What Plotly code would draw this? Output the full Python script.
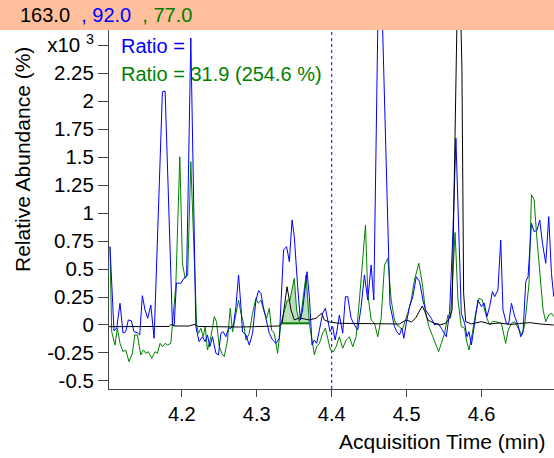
import numpy as np
import plotly.graph_objects as go

# ---- data (time in min, abundance in x10^3 %) ----
blue_t = [4.1041, 4.1095, 4.1131, 4.1175, 4.1215, 4.1251, 4.1286, 4.1326, 4.1362, 4.1406,
          4.1438, 4.1473, 4.1509, 4.1545, 4.1586, 4.1630, 4.1741, 4.1777, 4.1874, 4.1897,
          4.1928, 4.1987, 4.2031, 4.2064, 4.2120, 4.2187, 4.2231, 4.2275, 4.2312, 4.2342,
          4.2374, 4.2409, 4.2455, 4.2489, 4.2521, 4.2552, 4.2588, 4.2623, 4.2655, 4.2690,
          4.2722, 4.2757, 4.2789, 4.2810, 4.2856, 4.2900, 4.2944, 4.2989, 4.3024, 4.3056,
          4.3087, 4.3127, 4.3167, 4.3211, 4.3257, 4.3301, 4.3358, 4.3398, 4.3435, 4.3471,
          4.3501, 4.3546, 4.3582, 4.3612, 4.3644, 4.3671, 4.3702, 4.3738, 4.3769, 4.3800,
          4.3836, 4.3880, 4.3916, 4.3947, 4.3979, 4.4013, 4.4046, 4.4072, 4.4103, 4.4147,
          4.4183, 4.4214, 4.4259, 4.4304, 4.4348, 4.4393, 4.4437, 4.4481, 4.4527, 4.4562,
          4.4638, 4.4778, 4.4807, 4.4838, 4.4869, 4.4905, 4.4936, 4.4963, 4.4995, 4.5039,
          4.5083, 4.5129, 4.5173, 4.5217, 4.5253, 4.5329, 4.5373, 4.5417, 4.5463, 4.5498,
          4.5530, 4.5574, 4.5618, 4.5658, 4.5730, 4.5774, 4.5805, 4.5832, 4.5864, 4.5908,
          4.5952, 4.5998, 4.6035, 4.6072, 4.6108, 4.6145, 4.6175, 4.6219, 4.6256, 4.6286,
          4.6332, 4.6362, 4.6399, 4.6443, 4.6487, 4.6523, 4.6554, 4.6590, 4.6621, 4.6666,
          4.6701, 4.6741, 4.6777, 4.6813, 4.6857, 4.6897, 4.6933, 4.6964]
blue_v = [0.700, -0.054, -0.027, 0.194, -0.072, -0.060, 0.045, 0.038, -0.060, -0.069,
          -0.089, 0.262, 0.134, 0.060, 0.179, -0.119, 2.085, 2.091, 0.015, -0.009,
          0.375, 0.373, 0.420, 0.438, 2.565, -0.015, -0.149, -0.105, -0.149, -0.089,
          -0.194, -0.105, -0.253, -0.268, -0.074, -0.060, -0.105, -0.029, -0.029, 0.000,
          0.164, 0.447, 0.164, -0.063, -0.089, -0.179, -0.074, 0.223, 0.307, 0.283,
          0.164, 0.045, -0.074, -0.134, -0.164, -0.119, 0.670, 0.700, 0.566, 0.938,
          0.789, 0.342, 0.045, 0.134, 0.328, 0.476, 0.253, -0.179, -0.134, -0.164,
          -0.045, 0.105, 0.149, 0.045, -0.060, -0.015, -0.134, -0.045, 0.089, -0.074,
          0.253, 0.253, 0.060, 0.000, -0.045, 0.164, 0.447, 0.223, 0.536, 0.223,
          3.700, 0.179, 0.074, -0.015, -0.060, -0.089, -0.029, -0.119, 0.015, 0.164,
          0.253, 0.432, 0.387, 0.223, 0.134, 0.060, 0.000, 0.015, -0.029, -0.074,
          -0.105, 0.119, 0.820, 1.669, 0.105, 0.015, -0.105, -0.060, -0.179, 0.015,
          0.223, 0.164, 0.197, 0.074, 0.164, 0.298, 0.253, 0.313, 0.760, 0.134,
          0.015, 0.009, 0.194, 0.074, 0.000, -0.105, -0.060, 0.387, 0.432, 0.909,
          0.834, 0.849, 0.938, 0.730, 0.551, 0.968, 0.462, 0.253]

green_t = [4.1041, 4.1064, 4.1108, 4.1139, 4.1175, 4.1215, 4.1251, 4.1295, 4.1340, 4.1372,
           4.1406, 4.1452, 4.1487, 4.1519, 4.1553, 4.1599, 4.1643, 4.1674, 4.1710, 4.1741,
           4.1777, 4.1807, 4.1853, 4.1874, 4.1920, 4.1973, 4.2008, 4.2044, 4.2078, 4.2120,
           4.2164, 4.2198, 4.2222, 4.2254, 4.2285, 4.2312, 4.2342, 4.2378, 4.2409, 4.2432,
           4.2463, 4.2499, 4.2535, 4.2566, 4.2610, 4.2646, 4.2677, 4.2722, 4.2757, 4.2789,
           4.2824, 4.2856, 4.2900, 4.2944, 4.2989, 4.3020, 4.3056, 4.3091, 4.3131, 4.3167,
           4.3198, 4.3234, 4.3278, 4.3324, 4.3368, 4.3408, 4.3442, 4.3501, 4.3532, 4.3568,
           4.3599, 4.3658, 4.3702, 4.3738, 4.3769, 4.3800, 4.3836, 4.3880, 4.3916, 4.3947,
           4.3983, 4.4023, 4.4059, 4.4103, 4.4147, 4.4193, 4.4237, 4.4281, 4.4326, 4.4370,
           4.4414, 4.4451, 4.4481, 4.4527, 4.4571, 4.4615, 4.4660, 4.4705, 4.4749, 4.4794,
           4.4838, 4.4869, 4.4905, 4.4941, 4.4985, 4.5016, 4.5061, 4.5105, 4.5163, 4.5209,
           4.5253, 4.5297, 4.5350, 4.5396, 4.5427, 4.5463, 4.5507, 4.5551, 4.5587, 4.5647,
           4.5685, 4.5730, 4.5774, 4.5797, 4.5832, 4.5877, 4.5921, 4.5966, 4.6011, 4.6042,
           4.6072, 4.6108, 4.6145, 4.6189, 4.6265, 4.6322, 4.6356, 4.6399, 4.6443, 4.6487,
           4.6540, 4.6576, 4.6607, 4.6634, 4.6666, 4.6701, 4.6733, 4.6777, 4.6821, 4.6857,
           4.6897, 4.6933, 4.6964]
green_v = [0.700, -0.060, -0.179, -0.029, -0.164, -0.239, -0.223, -0.328, -0.253, -0.089,
           -0.089, -0.268, -0.223, -0.253, -0.239, -0.298, -0.239, -0.253, -0.164, -0.194,
           -0.164, -0.179, -0.164, -0.015, 0.357, 1.504, 0.551, 0.417, 0.447, 1.459,
           0.551, 0.000, -0.074, -0.029, -0.105, -0.015, -0.223, -0.134, -0.029, 0.074,
           0.029, -0.194, -0.253, -0.283, -0.134, 0.149, -0.060, 0.119, 0.223, 0.105,
           0.015, -0.134, -0.074, 0.105, 0.239, 0.194, 0.223, 0.134, 0.060, 0.149,
           -0.045, -0.074, -0.253, 0.015, 0.134, 0.223, 0.223, 0.417, 0.134, 0.030,
           0.134, 0.447, 0.015, -0.134, -0.268, -0.194, -0.164, -0.074, -0.029, -0.119,
           -0.223, -0.239, -0.194, -0.105, -0.208, -0.134, -0.105, -0.194, -0.105, 0.223,
           0.581, 0.894, 0.283, 0.045, 0.015, -0.105, 0.060, 0.536, 0.596, 0.223,
           0.045, 0.000, -0.015, -0.045, 0.045, 0.105, 0.223, 0.402, 0.551, 0.373,
           0.119, -0.015, -0.105, -0.179, -0.239, -0.164, -0.074, 0.089, 0.063, 0.827,
           0.223, -0.015, -0.029, -0.134, -0.223, -0.074, 0.105, 0.239, 0.223, 0.134,
           0.060, 0.000, 0.030, 0.030, 0.015, -0.164, -0.045, 0.015, 0.030, -0.027,
           -0.089, 0.000, 0.194, 0.373, 1.162, 1.123, 0.820, 0.462, 0.134, 0.030,
           0.089, 0.105, 0.074]

black_t = [4.1028, 4.1563, 4.1830, 4.1857, 4.1897, 4.2098, 4.2164, 4.2218, 4.2766, 4.3301,
           4.3341, 4.3404, 4.3457, 4.3501, 4.3568, 4.3635, 4.3702, 4.3791, 4.3836, 4.3866,
           4.3902, 4.3969, 4.4103, 4.4504, 4.4905, 4.4995, 4.5066, 4.5119, 4.5173, 4.5209,
           4.5244, 4.5284, 4.5350, 4.5440, 4.5520, 4.5574, 4.5607, 4.5694, 4.5738, 4.5761,
           4.5788, 4.5864, 4.5998, 4.6108, 4.6242, 4.6376, 4.6510, 4.6644, 4.6777, 4.6964]
black_v = [-0.015, -0.018, -0.013, 0.005, -0.009, -0.009, 0.005, -0.013, -0.018, -0.009,
           0.027, 0.342, 0.134, 0.045, 0.063, 0.054, 0.045, 0.060, 0.089, 0.105,
           0.045, 0.027, 0.015, 0.009, 0.009, 0.045, 0.027, 0.060, 0.119, 0.170,
           0.119, 0.045, 0.021, 0.000, 0.015, 0.060, 0.134, 3.600, 2.300, 0.283,
           0.030, 0.009, 0.030, 0.009, 0.018, 0.005, 0.013, 0.021, 0.009, 0.000]

integration_window = [4.3324, 4.3702]
marker_time = 4.4

header_parts = ["163.0", "92.0", "77.0"]
ratio_labels = ["Ratio =", "Ratio = 31.9 (254.6 %)"]

y_tickvals = [-0.5, -0.25, 0, 0.25, 0.5, 0.75, 1, 1.25, 1.5, 1.75, 2, 2.25, 2.5]
y_ticktext = ["-0.5", "-0.25", "0", "0.25", "0.5", "0.75", "1", "1.25", "1.5", "1.75",
              "2", "2.25", "x10 <sup>3</sup>"]
x_tickvals = [4.2, 4.3, 4.4, 4.5, 4.6]
x_ticktext = ["4.2", "4.3", "4.4", "4.5", "4.6"]

BLUE = "#0000FF"
GREEN = "#008000"
BLACK = "#000000"
FONT = "Liberation Sans, Arial, sans-serif"

W, H = 554, 458
ML, MR, MT, MB = 109, 0, 30, 69
pw, ph = W - ML - MR, H - MT - MB

fig = go.Figure()

# integrated area (green)
gt = np.array(green_t)
gv = np.array(green_v)
m = (gt >= integration_window[0] - 1e-9) & (gt <= integration_window[1] + 1e-9)
ft = list(gt[m]) + [gt[m][-1], gt[m][0]]
fv = list(gv[m]) + [gv[m][-1], gv[m][0]]
fig.add_trace(go.Scatter(x=ft, y=fv, mode="lines", fill="toself",
                         fillcolor="rgba(60,160,60,0.35)",
                         line=dict(color="rgba(0,0,0,0)", width=0), hoverinfo="skip"))
fig.add_trace(go.Scatter(x=[gt[m][0], gt[m][-1]], y=[gv[m][0], gv[m][-1]], mode="lines",
                         line=dict(color=GREEN, width=2), hoverinfo="skip"))

fig.add_trace(go.Scatter(x=green_t, y=green_v, mode="lines",
                         line=dict(color=GREEN, width=1)))
fig.add_trace(go.Scatter(x=blue_t, y=blue_v, mode="lines",
                         line=dict(color=BLUE, width=1)))
fig.add_trace(go.Scatter(x=black_t, y=black_v, mode="lines",
                         line=dict(color=BLACK, width=1)))

# vertical dashed marker
fig.add_shape(type="line", xref="x", yref="paper", x0=marker_time, x1=marker_time,
              y0=0, y1=1, line=dict(color=BLUE, width=1, dash="3px,3px"))

# header bar
fig.add_shape(type="rect", xref="paper", yref="paper",
              x0=-ML / pw, x1=1 + MR / pw, y0=1, y1=1 + MT / ph,
              fillcolor="#FFBE9C", line=dict(width=0), layer="below")
fig.add_annotation(
    xref="paper", yref="paper", x=(18 - ML) / pw, y=1 + 15 / ph,
    xanchor="left", yanchor="middle", showarrow=False,
    text=(f"{header_parts[0]}&nbsp;<span style='color:{BLUE}'> , {header_parts[1]}</span>"
          f"<span style='color:{GREEN}'>&nbsp; , {header_parts[2]}</span>"),
    font=dict(family=FONT, size=20, color=BLACK))

# ratio labels
fig.add_annotation(xref="paper", yref="paper", x=(119 - ML) / pw, y=1 - 16 / ph,
                   xanchor="left", yanchor="middle", showarrow=False,
                   text=ratio_labels[0], font=dict(family=FONT, size=20, color=BLUE))
fig.add_annotation(xref="paper", yref="paper", x=(119 - ML) / pw, y=1 - 44 / ph,
                   xanchor="left", yanchor="middle", showarrow=False,
                   text=ratio_labels[1], font=dict(family=FONT, size=20, color=GREEN))

# axis titles
fig.add_annotation(xref="paper", yref="paper", x=(22 - ML) / pw, y=(H - MB - 160) / ph,
                   xanchor="center", yanchor="middle", showarrow=False, textangle=-90,
                   text="Relative Abundance (%)", font=dict(family=FONT, size=21, color=BLACK))
fig.add_annotation(xref="paper", yref="paper", x=(548 - ML) / pw, y=-(441 - (H - MB)) / ph,
                   xanchor="right", yanchor="middle", showarrow=False,
                   text="Acquisition Time (min)", font=dict(family=FONT, size=21, color=BLACK))

fig.update_layout(
    width=W, height=H, margin=dict(l=ML, r=MR, t=MT, b=MB),
    paper_bgcolor="white", plot_bgcolor="white", showlegend=False,
    font=dict(family=FONT, size=20, color=BLACK),
    xaxis=dict(range=[4.1028, 4.6967], tickvals=x_tickvals, ticktext=x_ticktext,
               showgrid=False, zeroline=False, showline=True, linecolor="#444",
               linewidth=1, ticks="outside", ticklen=7, tickcolor="#444",
               tickfont=dict(family=FONT, size=20, color=BLACK)),
    yaxis=dict(range=[-0.572, 2.636], tickvals=y_tickvals, ticktext=y_ticktext,
               showgrid=False, zeroline=False, showline=True, linecolor="#444",
               linewidth=1, ticks="outside", ticklen=10, tickcolor="#444",
               tickfont=dict(family=FONT, size=20.5, color=BLACK)),
)

fig.write_html("out.html")
